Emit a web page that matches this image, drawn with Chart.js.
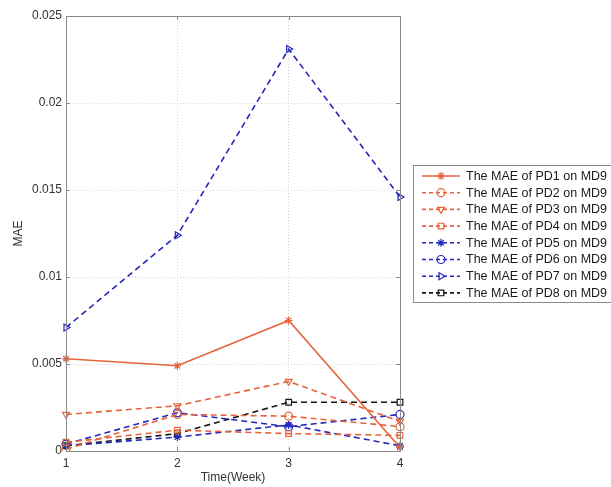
<!DOCTYPE html>
<html>
<head>
<meta charset="utf-8">
<script src="https://cdn.jsdelivr.net/npm/chart.js@4/dist/chart.umd.min.js"></script>
<style>
  body { margin: 0; background: #fff; }
  canvas { display: block; }
</style>
</head>
<body>
<canvas id="graph1" width="611" height="487"></canvas>
<script>
// data
var weeks = ['1', '2', '3', '4'];
var pd1 = [0.0053, 0.0049, 0.0075, 0.0002];
var pd2 = [0.0001, 0.0021, 0.0020, 0.0014];
var pd3 = [0.0021, 0.0026, 0.0040, 0.0017];
var pd4 = [0.0005, 0.0012, 0.0010, 0.0009];
var pd5 = [0.0003, 0.0008, 0.0015, 0.0003];
var pd6 = [0.0004, 0.0022, 0.0014, 0.0021];
var pd7 = [0.0071, 0.0124, 0.0231, 0.0146];
var pd8 = [0.0003, 0.0010, 0.0028, 0.0028];
var yTicks = [0, 0.005, 0.01, 0.015, 0.02, 0.025];

var orange = 'rgb(230,100,58)';
var blue = 'rgb(36,40,190)';
var black = 'rgb(20,20,20)';
var dash = [6, 4];

function series(label, data, color, style, rot, solid) {
	return {
		label: label,
		data: data,
		borderColor: color,
		backgroundColor: color,
		borderWidth: 1.6,
		borderDash: solid ? [] : dash,
		pointStyle: style,
		rotation: rot,
		pointRadius: 4,
		pointBorderWidth: 1.2,
		pointBorderColor: color,
		pointBackgroundColor: style == 'star' ? color : 'transparent',
		tension: 0
	};
}

// box round the axes + inner ticks
var frame = {
	id: 'frame',
	afterDatasetsDraw: function(chart) {
		var ctx = chart.ctx, a = chart.chartArea;
		var xs = chart.scales.x, ys = chart.scales.y;
		ctx.save();
		ctx.strokeStyle = '#8a8a8a';
		ctx.lineWidth = 1;
		ctx.strokeRect(a.left + 0.5, a.top + 0.5, a.right - a.left, a.bottom - a.top);
		ctx.beginPath();
		weeks.forEach(function(w, i) {
			var px = Math.round(xs.getPixelForValue(i)) + 0.5;
			ctx.moveTo(px, a.bottom); ctx.lineTo(px, a.bottom - 4);
			ctx.moveTo(px, a.top); ctx.lineTo(px, a.top + 4);
		});
		yTicks.forEach(function(v) {
			var py = Math.round(ys.getPixelForValue(v)) + 0.5;
			ctx.moveTo(a.left, py); ctx.lineTo(a.left + 4, py);
			ctx.moveTo(a.right, py); ctx.lineTo(a.right - 4, py);
		});
		ctx.stroke();
		ctx.restore();
	}
};

// matlab style legend box on the right (runs off the canvas edge)
var sideLegend = {
	id: 'sideLegend',
	afterDraw: function(chart) {
		var ctx = chart.ctx;
		var bx = 413, by = 165, bw = 230, bh = 137;
		ctx.save();
		ctx.fillStyle = '#fff';
		ctx.fillRect(bx, by, bw, bh);
		ctx.strokeStyle = '#8a8a8a';
		ctx.lineWidth = 1;
		ctx.strokeRect(bx + 0.5, by + 0.5, bw, bh);
		chart.data.datasets.forEach(function(ds, i) {
			var y = 176 + i * 16.7;
			ctx.strokeStyle = ds.borderColor;
			ctx.lineWidth = ds.borderWidth;
			ctx.setLineDash(ds.borderDash.length ? [4, 3] : []);
			ctx.beginPath();
			ctx.moveTo(422, y); ctx.lineTo(460, y);
			ctx.stroke();
			ctx.setLineDash([]);
			ctx.fillStyle = ds.pointBackgroundColor;
			ctx.lineWidth = ds.pointBorderWidth;
			Chart.helpers.drawPoint(ctx, {
				pointStyle: ds.pointStyle,
				rotation: ds.rotation,
				radius: 4,
				borderWidth: ds.pointBorderWidth
			}, 441, y);
			ctx.fillStyle = '#1a1a1a';
			ctx.font = '12.5px "Liberation Sans", Arial, sans-serif';
			ctx.textBaseline = 'middle';
			ctx.fillText(ds.label, 466, y + 0.5);
		});
		ctx.restore();
	}
};

var ctx = document.getElementById('graph1').getContext('2d');
var chart = new Chart(ctx, {
	type: 'line',
	data: {
		labels: weeks,
		datasets: [
			series('The MAE of PD1 on MD9', pd1, orange, 'star', 0, true),
			series('The MAE of PD2 on MD9', pd2, orange, 'circle', 0),
			series('The MAE of PD3 on MD9', pd3, orange, 'triangle', 180),
			series('The MAE of PD4 on MD9', pd4, orange, 'rect', 0),
			series('The MAE of PD5 on MD9', pd5, blue, 'star', 0),
			series('The MAE of PD6 on MD9', pd6, blue, 'circle', 0),
			series('The MAE of PD7 on MD9', pd7, blue, 'triangle', 90),
			series('The MAE of PD8 on MD9', pd8, black, 'rect', 0)
		]
	},
	options: {
		responsive: false,
		animation: false,
		layout: { padding: { top: 16, right: 211, left: 0, bottom: 0 } },
		plugins: {
			legend: { display: false },
			tooltip: { enabled: false }
		},
		scales: {
			x: {
				offset: false,
				grid: { color: '#d4d4d4', drawTicks: false },
				border: { display: false, dash: [1, 2] },
				ticks: { color: '#333', font: { family: 'Liberation Sans', size: 12 }, padding: 5, maxRotation: 0 },
				title: { display: true, text: 'Time(Week)', color: '#333', font: { family: 'Liberation Sans', size: 12 }, padding: { top: 0, bottom: 2 } },
				afterFit: function(s) { s.height = 36; }
			},
			y: {
				min: 0,
				max: 0.025,
				grid: { color: '#d4d4d4', drawTicks: false },
				border: { display: false, dash: [1, 2] },
				ticks: {
					stepSize: 0.005,
					color: '#333',
					font: { family: 'Liberation Sans', size: 12 },
					padding: 4,
					callback: function(v) { return String(parseFloat(v.toFixed(3))); }
				},
				title: { display: true, text: 'MAE', color: '#333', font: { family: 'Liberation Sans', size: 12 }, padding: { top: 11, bottom: 0 } },
				afterFit: function(s) { s.width = 66; }
			}
		}
	},
	plugins: [frame, sideLegend]
});
</script>
</body>
</html>
